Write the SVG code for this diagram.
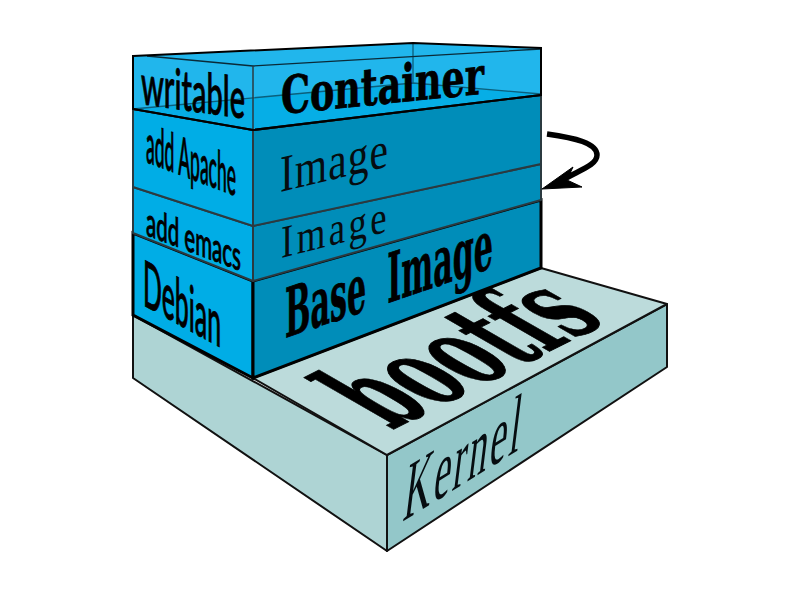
<svg xmlns="http://www.w3.org/2000/svg" width="800" height="600" viewBox="0 0 800 600">
<style>
.e{stroke:#111;stroke-width:2;stroke-linejoin:round}
.g{stroke:#2b3a40;stroke-width:2;stroke-linejoin:round}
.thin{stroke:#0b5f7c;stroke-width:1.3;fill:none}
.lft{fill:#00ade6}
.rgt{fill:#008db9}
.s{font-family:"Lato","Liberation Sans",sans-serif;fill:#000;font-weight:500;stroke:#000;stroke-width:.9}
.b{font-family:"DejaVu Serif",serif;font-weight:700;fill:#000;stroke:#000;stroke-width:.8}
.n{font-family:"Liberation Serif",serif;fill:#060c10}
</style>
<rect width="800" height="600" fill="#fff"/>
<g id="kernel">
<polygon points="133,315 387,455 387,551 133,378" fill="#aed4d4" class="e"/>
<polygon points="387,455 667,304 667,367 387,551" fill="#93c7c9" class="e"/>
<polygon points="253,378 541,268 667,304 387,455" fill="#bcdbdb" class="e"/>
<text class="b" font-size="100" textLength="350" lengthAdjust="spacingAndGlyphs" transform="matrix(.62 -.31 1.18 .68 392 430)">bootfs</text>
<text class="n" font-size="76" textLength="232" lengthAdjust="spacing" transform="matrix(.5 -.31 -.14 1.13 402 522)">Kernel</text>
</g>
<g id="debian">
<polygon points="133,233 253,281 253,378 133,315" class="lft" stroke="#000" stroke-width="3"/>
<polygon points="253,281 541,200 541,268 253,378" class="rgt" stroke="#000" stroke-width="3"/>
<text class="s" font-size="64" textLength="78" lengthAdjust="spacingAndGlyphs" transform="matrix(1 .55 0 1 143 305)">Debian</text>
<text class="b" font-size="68" word-spacing="24" textLength="208" lengthAdjust="spacingAndGlyphs" transform="matrix(1 -.34 0 1 285 338)">Base Image</text>
</g>
<g id="emacs">
<polygon points="133,187 253,226 253,281 133,233" class="lft g"/>
<polygon points="253,226 541,164 541,200 253,281" class="rgt g"/>
<text class="s" font-size="40" textLength="95" lengthAdjust="spacingAndGlyphs" transform="matrix(1 .38 0 1 146 235)">add emacs</text>
<text class="n" font-size="46" textLength="132" lengthAdjust="spacing" transform="matrix(.8 -.2 0 1 281 258)">Image</text>
</g>
<g id="apache">
<polygon points="133,109 253,130 253,226 133,187" class="lft g"/>
<polygon points="253,130 541,95 541,164 253,226" class="rgt g"/>
<text class="s" font-size="54" textLength="90" lengthAdjust="spacingAndGlyphs" transform="matrix(1 .38 0 1 146 162)">add Apache</text>
<text class="n" font-size="52" textLength="135" lengthAdjust="spacing" transform="matrix(.8 -.19 0 1 280 192)">Image</text>
</g>
<g id="container">
<polygon points="133,56 413,43 541,48 541,95 253,130 133,109" fill="#21b6ec"/>
<polygon points="133,109 413,83 541,94 253,130" fill="#06aee6"/>
<polyline class="thin" points="133,109 413,83 541,94"/>
<line class="thin" x1="413" y1="43" x2="413" y2="83"/>
<polyline points="147,56 253,66 541,49" fill="none" stroke="#0a2a38" stroke-width="1.3"/>
<line x1="253" y1="66" x2="253" y2="130" stroke="#2b3a40" stroke-width="1.5"/>
<polyline points="133,109 253,130 541,95" fill="none" stroke="#111" stroke-width="2"/>
<polygon points="133,56 413,43 541,48 541,95 253,130 133,109" fill="none" stroke="#000" stroke-width="2"/>
<text class="s" font-size="56" textLength="104" lengthAdjust="spacingAndGlyphs" transform="matrix(1 .14 0 1 141 104)">writable</text>
<text class="b" font-size="52" textLength="203" lengthAdjust="spacingAndGlyphs" transform="matrix(1 -.1 0 1 281 114)">Container</text>
</g>
<g id="connectors">
<path d="M547,134 C575,138 597,143 597,155 C597,165 580,170 566,178" fill="none" stroke="#000" stroke-width="5.5"/>
<polygon points="542,189 573,167 567,180 582,187" fill="#000" stroke="#000" stroke-width="1"/>
</g>
</svg>
